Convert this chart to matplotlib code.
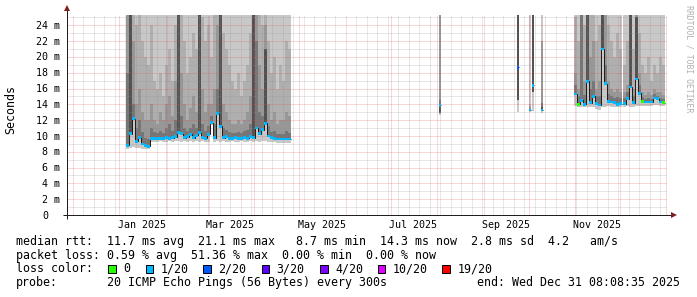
import numpy as np
import matplotlib
matplotlib.use("Agg")
import matplotlib.pyplot as plt

nan = np.nan

# ---------------- data ----------------
# time axis: days relative to 2025-01-01
x_range_days = (-34.89, 365.38)
y_max_ms = 25.3

# segment 1 (Jan - Apr 2025), 2-day bins
s1_start = 4.5
s1_med = [8.8, 10.3, 12.2, 9.3, 9.8, 9.0, 8.8, 8.7, 9.7, 9.7,
          9.7, 9.7, 9.7, 9.8, 9.7, 9.8, 9.9, 10.4, 10.3, 9.8,
          9.9, 10.2, 9.8, 10.1, 10.4, 9.8, 9.7, 10.2, 11.7, 9.8,
          12.8, 11.2, 9.8, 9.9, 9.7, 9.7, 9.8, 9.7, 9.7, 9.8,
          9.7, 9.9, 9.8, 11.0, 10.3, 10.8, 11.6, 10.0, 9.8, 9.7,
          9.6, 9.6, 9.6, 9.6, 9.6]
s1_lo = [8.4, 8.5, 8.6, 8.5, 8.5, 8.4, 8.4, 8.4, 9.2, 9.2,
         9.2, 9.3, 9.2, 9.2, 9.3, 9.2, 9.3, 9.3, 9.2, 9.3,
         9.2, 9.3, 9.2, 9.3, 9.2, 9.3, 9.2, 9.2, 11.4, 9.2,
         9.3, 9.2, 9.3, 9.2, 9.2, 9.3, 9.2, 9.2, 9.3, 9.2,
         9.2, 9.3, 9.2, 9.3, 9.2, 9.3, 9.3, 9.2, 9.2, 9.2,
         9.1, 9.1, 9.1, 9.1, 9.1]
s1_t2 = [30, 30, 30, 24, 26, 22, 20, 19, 24, 17,
         16, 18, 15, 19, 21, 17, 24, 30, 26, 22,
         18, 20, 23, 21, 30, 25, 22, 24, 20, 26,
         30, 30, 23, 21, 19, 17, 16, 18, 15, 17,
         19, 23, 30, 30, 27, 24, 30, 22, 18, 20,
         16, 19, 17, 22, 21]
s1_t3 = [30, 30, 22, 14, 16, 13, 12, 12, 14, 12,
         11.5, 13, 12, 14, 15, 12.5, 17, 30, 18, 14,
         12, 13.5, 15, 13, 30, 16, 13, 14, 14, 16,
         24, 20, 14, 13, 12, 11.5, 11.5, 12, 11.5, 12,
         13, 15, 30, 30, 19, 16, 24, 14, 12, 13,
         11.5, 12, 12, 13, 12.5]
s1_t4 = [18, 30, 14, 11, 12, 10.5, 9.8, 9.6, 11, 10.5,
         10.4, 10.6, 10.4, 11, 11.5, 10.6, 12, 30, 12.5, 11,
         10.6, 11, 11.5, 11, 30, 11.5, 10.6, 11.2, 12.5, 11.5,
         16, 14, 11, 10.8, 10.5, 10.4, 10.4, 10.5, 10.4, 10.6,
         10.8, 11.5, 30, 22, 13, 12.5, 21, 11.2, 10.5, 10.6,
         10.3, 10.3, 10.3, 10.6, 10.4]
s1_t5 = [0, 30, 0, 0, 0, 0, 0, 0, 0, 0,
         0, 0, 0, 0, 0, 0, 0, 30, 0, 0,
         0, 0, 0, 0, 30, 0, 0, 0, 0, 0,
         0, 26, 0, 0, 0, 0, 0, 0, 0, 0,
         0, 0, 30, 0, 0, 0, 21, 0, 0, 0,
         0, 0, 0, 0, 0]
s1_loss = [1, 1, 1, 1, 1, 1, 1, 1, 1, 1,
           1, 1, 1, 1, 1, 1, 1, 1, 1, 1,
           1, 1, 1, 1, 1, 1, 1, 1, 1, 1,
           1, 1, 1, 1, 1, 1, 1, 1, 1, 1,
           1, 1, 1, 1, 1, 1, 1, 1, 1, 1,
           1, 1, 1, 1, 1]

# segment 2 (Nov - Dec 2025), 2-day bins, nan = missing
s2_start = 303.3
s2_med = [15.3, 14.0, 14.5, 14.0, 16.9, 14.2, 15.0, 14.1, 13.9, 21.0,
          16.6, 14.4, 14.3, 14.2, 14.0, 14.1, nan, 14.1, 14.7, 16.2,
          14.2, 17.2, 15.4, 14.4, 14.3, 14.3, 14.3, 14.8, 14.7, 14.3,
          14.2]
s2_lo = [13.8, 13.6, 13.7, 13.6, 13.6, 13.7, 13.6, 13.4, 13.3, 13.6,
         13.7, 13.8, 13.7, 13.7, 13.6, 13.7, nan, 13.7, 13.8, 13.7,
         13.7, 13.8, 13.8, 13.8, 13.8, 13.8, 13.8, 13.9, 13.9, 13.8,
         13.8]
s2_t2 = [25, 22, 30, 24, 30, 26, 28, 22, 24, 30,
         30, 24, 22, 20, 23, 21, nan, 19, 22, 30,
         21, 30, 23, 19, 18, 20, 17, 19, 18, 20,
         19]
s2_t3 = [18, 16, 30, 17, 30, 20, 22, 16, 17, 30,
         26, 17, 16, 15.5, 16, 15.5, nan, 15.5, 16.5, 30,
         16, 26, 18, 15.5, 15.2, 15.5, 15.2, 16, 15.5, 15.5,
         15.2]
s2_t4 = [16.5, 15, 30, 15.2, 30, 16, 17, 15, 15, 30,
         19, 15.3, 15, 14.8, 14.9, 14.8, nan, 14.8, 15.5, 30,
         15, 22, 16.5, 14.9, 14.7, 14.8, 14.7, 15.3, 15, 14.8,
         14.7]
s2_t5 = [0, 0, 0, 0, 30, 0, 0, 0, 0, 30,
         0, 0, 0, 0, 0, 0, nan, 0, 0, 30,
         0, 25, 0, 0, 0, 0, 0, 0, 0, 0,
         0]
s2_loss = [1, 0, 1, 1, 1, 1, 1, 1, 1, 1,
           1, 1, 1, 1, 1, 1, 1, 1, 1, 1,
           1, 1, 1, 0, 1, 1, 1, 1, 1, 1,
           0]

# isolated bins (Aug - Sep 2025)
s3_day = [213.3, 265.4, 273.4, 275.4, 281.4]
s3_med = [13.9, 18.7, 13.3, 16.4, 13.3]
s3_lo = [12.6, 13.0, 13.0, 13.2, 12.9]
s3_lo_inner = [12.9, 14.5, 13.1, 15.5, 13.2]
s3_t2 = [30, 30, 14.0, 30, 22]
s3_t3 = [30, 30, 13.6, 30, 22]
s3_t4 = [14.5, 30, 13.4, 30, 14.2]
s3_t5 = [13.6, 30, 0, 30, 13.6]
s3_loss = [1, 2, 1, 1, 1]

y_ticks = [0, 2, 4, 6, 8, 10, 12, 14, 16, 18, 20, 22, 24]
y_tick_labels = ["0", "2 m", "4 m", "6 m", "8 m", "10 m", "12 m", "14 m",
                 "16 m", "18 m", "20 m", "22 m", "24 m"]
x_label_months = ["2025-01", "2025-03", "2025-05", "2025-07", "2025-09", "2025-11"]
x_labels = ["Jan 2025", "Mar 2025", "May 2025", "Jul 2025", "Sep 2025", "Nov 2025"]

loss_names = ["0", "1/20", "2/20", "3/20", "4/20", "10/20", "19/20"]
loss_colors = ["#26ff00", "#00b8ff", "#0059ff", "#5e00ff", "#7e00ff", "#dd00ff", "#ff0000"]

legend_rtt = "median rtt:  11.7 ms avg  21.1 ms max   8.7 ms min  14.3 ms now  2.8 ms sd  4.2   am/s"
legend_loss = "packet loss: 0.59 % avg  51.36 % max  0.00 % min  0.00 % now"
probe_text = "20 ICMP Echo Pings (56 Bytes) every 300s"
end_text = "end: Wed Dec 31 08:08:35 2025"

# ---------------- figure ----------------
W, H = 697, 297
fig = plt.figure(figsize=(W / 100, H / 100), dpi=100)
fig.patch.set_facecolor("white")


def fx(px):
    return px / W


def fy(py):
    return 1 - py / H


X0, X1, YT, YB = 67, 667, 15, 215
ax = fig.add_axes([fx(X0), fy(YB), (X1 - X0) / W, (YB - YT) / H])
ax.set_xlim(*x_range_days)
ax.set_ylim(0, y_max_ms)
ax.set_axis_off()

SMOKE = ["#c8c8c8", "#afafaf", "#979797", "#767676", "#525252"]
CLIP = 40.0
SW = 0.17  # half height of the loss-coloured median band (ms)
PX = 72.0 / 100.0  # one pixel in points


def draw_bins(left, widths, med, lo, inner_lo, t2, t3, t4, t5, loss):
    left = np.asarray(left, float)
    widths = np.asarray(widths, float)
    med = np.asarray(med, float)
    lo = np.asarray(lo, float)
    inner_lo = np.asarray(inner_lo, float)
    ok = ~np.isnan(med)
    tops = [np.full_like(lo, CLIP), np.asarray(t2, float), np.asarray(t3, float),
            np.asarray(t4, float), np.asarray(t5, float)]
    for k, (top, col) in enumerate(zip(tops, SMOKE)):
        top = np.minimum(top, CLIP)
        bot = lo if k == 0 else np.minimum(inner_lo, top)
        m = ok & (top > bot)
        ax.bar(left[m], (top - bot)[m], width=widths[m], bottom=bot[m], align="edge",
               color=col, linewidth=0, antialiased=False, zorder=1)
    runs, cur = [], []
    for i in range(len(med)):
        if not ok[i]:
            if cur:
                runs.append(cur)
            cur = []
            continue
        if cur and abs(left[cur[-1]] + widths[cur[-1]] - left[i]) > 1e-6:
            runs.append(cur)
            cur = []
        cur.append(i)
    if cur:
        runs.append(cur)
    for r in runs:
        r = np.array(r)
        edges = np.append(left[r], left[r[-1]] + widths[r[-1]])
        ax.stairs(med[r], edges, baseline=None, color="#202020", linewidth=PX, zorder=4)
    loss = np.asarray(loss)
    for li, col in enumerate(loss_colors):
        m = ok & (loss == li)
        if m.any():
            ax.bar(left[m], 2 * SW, width=widths[m], bottom=med[m] - SW, align="edge",
                   color=col, linewidth=0, antialiased=False, zorder=5)


BIN = 2.0
GAP = 0.7
n1 = len(s1_med)
# in the two long segments the inner (darker) smoke bands start at the median
draw_bins(s1_start + BIN * np.arange(n1), np.full(n1, BIN), s1_med, s1_lo, s1_med,
          s1_t2, s1_t3, s1_t4, s1_t5, s1_loss)
w2 = np.where(np.isnan(s2_med), GAP, BIN)
l2 = s2_start + np.concatenate([[0], np.cumsum(w2)[:-1]])
draw_bins(l2, w2, s2_med, s2_lo, s2_med, s2_t2, s2_t3, s2_t4, s2_t5, s2_loss)
draw_bins(s3_day, np.full(len(s3_day), 1.4), s3_med, s3_lo, s3_lo_inner,
          s3_t2, s3_t3, s3_t4, s3_t5, s3_loss)

# ---------------- grid ----------------
dot = (0, (1, 1))
GRID_MINOR = (0.56, 0.56, 0.56, 0.42)
GRID_MAJOR = (0.87, 0.31, 0.31, 0.45)


def grid_h(vals, col):
    for v in vals:
        ax.plot(x_range_days, [v, v], color=col, linewidth=PX, linestyle=dot,
                dash_capstyle="butt", solid_capstyle="butt", antialiased=True,
                snap=True, zorder=3)


def grid_v(vals, col):
    for v in vals:
        ax.plot([v, v], [0, y_max_ms], color=col, linewidth=PX, linestyle=dot,
                dash_capstyle="butt", solid_capstyle="butt", antialiased=True,
                snap=True, zorder=3)


y_minor = [v for v in range(1, 26) if v % 2 == 1]
y_major = list(range(2, 25, 2))
grid_h(y_minor, GRID_MINOR)
grid_h(y_major, GRID_MAJOR)

base = np.datetime64("2025-01-01")
months = np.arange(np.datetime64("2024-12"), np.datetime64("2026-02"), dtype="datetime64[M]")
month_days = (months.astype("datetime64[D]") - base).astype(float)
month_days = [d for d in month_days if x_range_days[0] < d < x_range_days[1]]
sundays = np.arange(np.datetime64("2024-12-01"), np.datetime64("2026-01-05"), 7)
week_days = (sundays - base).astype(float)
week_days = [d for d in week_days if d not in month_days and x_range_days[0] < d < x_range_days[1]]
grid_v(week_days, GRID_MINOR)
grid_v(month_days, GRID_MAJOR)

# ---------------- axes lines & arrows ----------------
AXC = "#1f1f1f"
ARC = "#801f1f"
ax.plot([-4 / 600, 1 + 5 / 600], [0, 0], transform=ax.transAxes, color=AXC,
        linewidth=PX, clip_on=False, zorder=6, solid_capstyle="butt", snap=True)
ax.plot([0, 0], [-4 / 200, 1 + 5 / 200], transform=ax.transAxes, color=AXC,
        linewidth=PX, clip_on=False, zorder=6, solid_capstyle="butt", snap=True)
ax.plot([1 + 7 / 600], [0], marker=">", markersize=4.5, color=ARC, transform=ax.transAxes,
        clip_on=False, zorder=7, markeredgewidth=0)
ax.plot([0], [1 + 7 / 200], marker="^", markersize=4.5, color=ARC, transform=ax.transAxes,
        clip_on=False, zorder=7, markeredgewidth=0)

# ---------------- text ----------------
MONO = "DejaVu Sans Mono"
TICK_FS = 7.2
LEG_FS = 8.4
for v, lab in zip(y_ticks, y_tick_labels):
    ypx = YB - v * (YB - YT) / y_max_ms
    xr = 48 if lab == "0" else 60
    fig.text(fx(xr), fy(ypx + 3.6), lab, ha="right", va="baseline",
             family=MONO, fontsize=TICK_FS, color="black")

for m, lab in zip(x_label_months, x_labels):
    d = (np.datetime64(m + "-16") - base).astype(float)
    xpx = X0 + (d - x_range_days[0]) / (x_range_days[1] - x_range_days[0]) * (X1 - X0)
    fig.text(fx(xpx), fy(228.3), lab, ha="center", va="baseline",
             family=MONO, fontsize=TICK_FS, color="black")

fig.text(fx(11), fy(110), "Seconds", rotation=90, ha="center", va="center",
         family=MONO, fontsize=LEG_FS, color="black")
fig.text(fx(689), fy(59), "RRDTOOL / TOBI OETIKER", rotation=270, ha="center", va="center",
         family=MONO, fontsize=5.9, color="#b0b0b0")

fig.text(fx(16), fy(245), legend_rtt, ha="left", va="baseline", family=MONO, fontsize=LEG_FS)
fig.text(fx(16), fy(258.7), legend_loss, ha="left", va="baseline", family=MONO, fontsize=LEG_FS)

fig.text(fx(16), fy(272.4), "loss color:", ha="left", va="baseline", family=MONO, fontsize=LEG_FS)
box_x = [108, 145.7, 203, 261.7, 320, 377.7, 442.3]
for x, col, name in zip(box_x, loss_colors, loss_names):
    fig.patches.append(plt.Rectangle((fx(x), fy(273)), 7.5 / W, 8 / H, transform=fig.transFigure,
                                     facecolor=col, edgecolor="black", linewidth=PX))
    fig.text(fx(x + 15), fy(272.4), name, ha="left", va="baseline", family=MONO, fontsize=LEG_FS)

fig.text(fx(16), fy(286), "probe:", ha="left", va="baseline", family=MONO, fontsize=LEG_FS)
fig.text(fx(107.3), fy(286), probe_text, ha="left", va="baseline", family=MONO, fontsize=LEG_FS)
fig.text(fx(680), fy(286), end_text, ha="right", va="baseline", family=MONO, fontsize=LEG_FS)

fig.savefig("out.png", dpi=100, facecolor="white")
